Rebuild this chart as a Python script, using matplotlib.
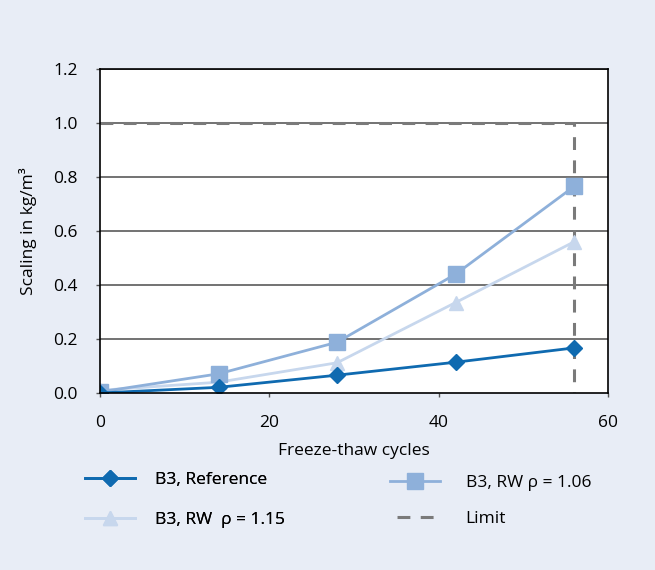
import matplotlib
matplotlib.use("Agg")
import matplotlib.pyplot as plt
from matplotlib.lines import Line2D
from matplotlib.ticker import FormatStrFormatter

plt.rcParams['font.family'] = ['Open Sans', 'DejaVu Sans']

cycles = [0, 14, 28, 42, 56]
ref_vals = [0.0, 0.021, 0.066, 0.114, 0.167]
rw106_vals = [0.004, 0.071, 0.188, 0.44, 0.765]
rw115_vals = [0.01, 0.04, 0.112, 0.335, 0.56]
limit_x = [0, 56, 56]
limit_y = [1.0, 1.0, 0.0]
x_ticks = [0, 20, 40, 60]
y_ticks = [0.0, 0.2, 0.4, 0.6, 0.8, 1.0, 1.2]
labels = ['B3, Reference', 'B3, RW  \u03c1 = 1.15', 'B3, RW \u03c1 = 1.06', 'Limit']

bg = '#E8EDF6'
c_ref = '#0F6AB0'
c_106 = '#8EB0DA'
c_115 = '#C7D7ED'
c_lim = '#7a7a7a'
fs = 12.5

fig = plt.figure(figsize=(6.55, 5.7), dpi=100, facecolor=bg)
ax = fig.add_axes([100/655, 1-393/570, (608-100)/655, (393-69)/570])
ax.set_facecolor('white')

for y in y_ticks[1:]:
    ax.axhline(y, color='#5a5a5a', lw=1.2, zorder=1)

llim, = ax.plot(limit_x, limit_y, color=c_lim, lw=2.2, dashes=(4.2, 3.4), zorder=2)
l115, = ax.plot(cycles, rw115_vals, color=c_115, lw=2, marker='^', ms=10, zorder=3)
l106, = ax.plot(cycles, rw106_vals, color=c_106, lw=2, marker='s', ms=11, zorder=4)
lref, = ax.plot(cycles, ref_vals, color=c_ref, lw=2, marker='D', ms=8, zorder=5)

ax.set_xlim(0, 60)
ax.set_ylim(0, 1.2)
ax.set_xticks(x_ticks)
ax.set_yticks(y_ticks)
ax.yaxis.set_major_formatter(FormatStrFormatter('%.1f'))
for s in ax.spines.values():
    s.set_color('black')
    s.set_linewidth(1.2)
    s.set_zorder(6)
ax.tick_params(axis='both', direction='out', length=3, width=1, color='#555555',
               labelsize=fs)
ax.tick_params(axis='y', pad=13)
ax.tick_params(axis='x', pad=12.5)
ax.set_xlabel('Freeze-thaw cycles', fontsize=fs, labelpad=9)
ax.set_ylabel('Scaling in kg/m³', fontsize=fs, labelpad=12)

lim_handle = Line2D([], [], color=c_lim, lw=2.2, linestyle=(5.3, (4.2, 3.4)))

common = dict(loc='center left', frameon=False, fontsize=fs, handlelength=2.9,
              handletextpad=1.15, borderpad=0, borderaxespad=0, labelspacing=1.35)
leg1 = fig.legend([lref, l115], [labels[0], labels[1]],
                  bbox_to_anchor=(85/655, 1-500/570), **common)
fig.add_artist(leg1)
leg2 = fig.legend([l106, lim_handle], [labels[2], labels[3]],
                  bbox_to_anchor=(390/655, 1-501/570),
                  **{**common, 'labelspacing': 1.12, 'handletextpad': 1.45})

fig.savefig('out.png', dpi=100, facecolor=bg)
